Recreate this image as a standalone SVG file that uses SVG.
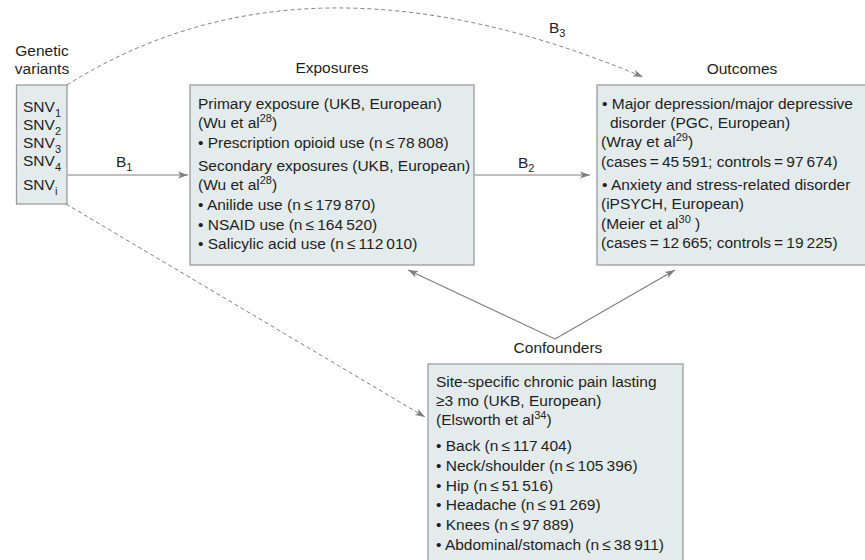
<svg xmlns="http://www.w3.org/2000/svg" width="865" height="560" viewBox="0 0 865 560">
<style>
  text { font-family: "Liberation Sans", Arial, sans-serif; font-size: 15.5px; fill: #231f20; }
  .box { fill: #e4ebed; stroke: #9c9c9c; stroke-width: 1.3; }
  .conn { fill: none; stroke: #7f7f7f; stroke-width: 1.2; }
  .dash { stroke-dasharray: 4 3; stroke-width: 1; }
  .sup { font-size: 11px; }
  .mid { text-anchor: middle; }
</style>
<defs>
  <marker id="arr" viewBox="0 0 10 8" refX="10" refY="4" markerWidth="10" markerHeight="8" markerUnits="userSpaceOnUse" orient="auto">
    <path d="M0,0.5 L10,4 L0,7.5 L2.5,4 z" fill="#7f7f7f"/>
  </marker>
</defs>

<g id="connectors">
  <path class="conn dash" d="M67,85 Q305,-65 643,77" marker-end="url(#arr)"/>
  <path class="conn dash" d="M66,204 L425,417" marker-end="url(#arr)"/>
  <path class="conn" d="M67.5,175 L188,175" marker-end="url(#arr)"/>
  <path class="conn" d="M474,175 L590,175" marker-end="url(#arr)"/>
  <path class="conn" d="M555,339 L408,270" marker-end="url(#arr)"/>
  <path class="conn" d="M555,339 L675,270" marker-end="url(#arr)"/>
  <text x="116" y="167">B<tspan class="sup" dy="4">1</tspan></text>
  <text x="518" y="168">B<tspan class="sup" dy="4">2</tspan></text>
  <text x="549" y="33">B<tspan class="sup" dy="4">3</tspan></text>
</g>

<g id="node-genetic-variants">
  <text class="mid" x="42" y="56">Genetic</text>
  <text class="mid" x="42" y="74">variants</text>
  <rect class="box" x="16.5" y="85" width="50.5" height="119"/>
  <text x="23" y="112">SNV<tspan class="sup" dy="5">1</tspan></text>
  <text x="23" y="130">SNV<tspan class="sup" dy="5">2</tspan></text>
  <text x="23" y="148">SNV<tspan class="sup" dy="5">3</tspan></text>
  <text x="23" y="166">SNV<tspan class="sup" dy="5">4</tspan></text>
  <text x="23" y="190">SNV<tspan class="sup" dy="5">i</tspan></text>
</g>

<g id="node-exposures">
  <text class="mid" x="332" y="73">Exposures</text>
  <rect class="box" x="190" y="85" width="284" height="180"/>
  <text x="198" y="109">Primary exposure (UKB, European)</text>
  <text x="198" y="128">(Wu et al<tspan class="sup" dy="-6">28</tspan><tspan dy="6">)</tspan></text>
  <text x="198" y="148">• Prescription opioid use (n&#8201;≤&#8201;78&#8201;808)</text>
  <text x="198" y="171">Secondary exposures (UKB, European)</text>
  <text x="198" y="190">(Wu et al<tspan class="sup" dy="-6">28</tspan><tspan dy="6">)</tspan></text>
  <text x="198" y="210">• Anilide use (n&#8201;≤&#8201;179&#8201;870)</text>
  <text x="198" y="230">• NSAID use (n&#8201;≤&#8201;164&#8201;520)</text>
  <text x="198" y="249">• Salicylic acid use (n&#8201;≤&#8201;112&#8201;010)</text>
</g>

<g id="node-outcomes">
  <text class="mid" x="742" y="74">Outcomes</text>
  <rect class="box" x="597" y="85" width="275" height="180"/>
  <text x="602" y="109">• Major depression/major depressive</text>
  <text x="610" y="128">disorder (PGC, European)</text>
  <text x="601" y="147">(Wray et al<tspan class="sup" dy="-6">29</tspan><tspan dy="6">)</tspan></text>
  <text x="601" y="167">(cases&#8201;=&#8201;45&#8201;591; controls&#8201;=&#8201;97&#8201;674)</text>
  <text x="602" y="190">• Anxiety and stress-related disorder</text>
  <text x="601" y="209">(iPSYCH, European)</text>
  <text x="601" y="229">(Meier et al<tspan class="sup" dy="-6">30</tspan><tspan dy="6"> )</tspan></text>
  <text x="601" y="248">(cases&#8201;=&#8201;12&#8201;665; controls&#8201;=&#8201;19&#8201;225)</text>
</g>

<g id="node-confounders">
  <text class="mid" x="558" y="353">Confounders</text>
  <rect class="box" x="428" y="364" width="255" height="205"/>
  <text x="436" y="387">Site-specific chronic pain lasting</text>
  <text x="436" y="406">≥3 mo (UKB, European)</text>
  <text x="436" y="425">(Elsworth et al<tspan class="sup" dy="-6">34</tspan><tspan dy="6">)</tspan></text>
  <text x="436" y="451">• Back (n&#8201;≤&#8201;117&#8201;404)</text>
  <text x="436" y="471">• Neck/shoulder (n&#8201;≤&#8201;105&#8201;396)</text>
  <text x="436" y="491">• Hip (n&#8201;≤&#8201;51&#8201;516)</text>
  <text x="436" y="510">• Headache (n&#8201;≤&#8201;91&#8201;269)</text>
  <text x="436" y="530">• Knees (n&#8201;≤&#8201;97&#8201;889)</text>
  <text x="436" y="550">• Abdominal/stomach (n&#8201;≤&#8201;38&#8201;911)</text>
</g>
</svg>
